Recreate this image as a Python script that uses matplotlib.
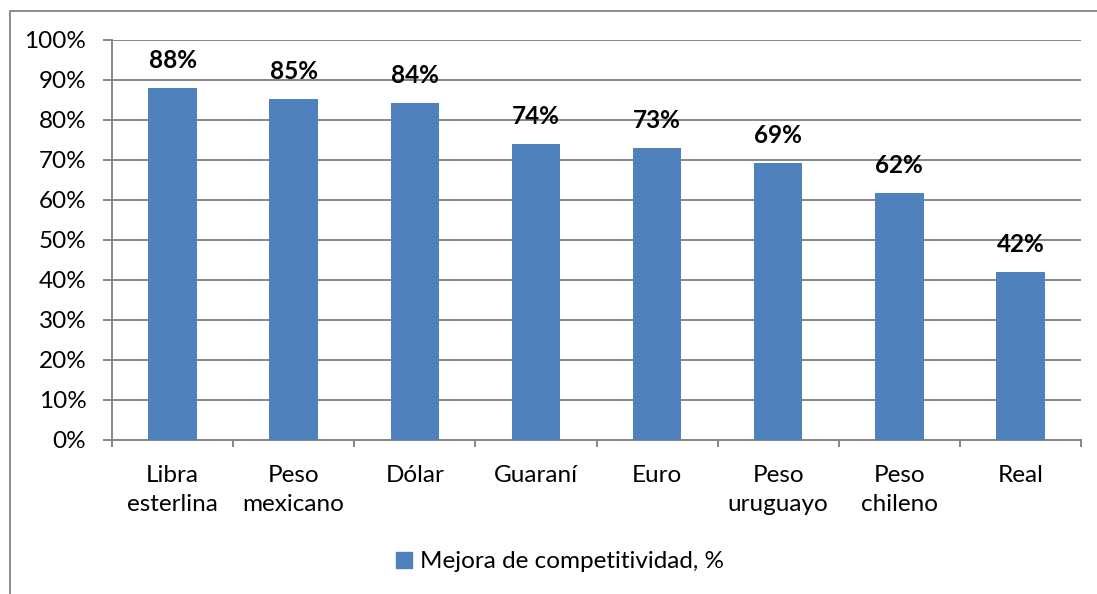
import matplotlib.pyplot as plt
from matplotlib.patches import Rectangle, Patch
import numpy as np

monedas = ["Libra\nesterlina", "Peso\nmexicano", "Dólar", "Guaraní", "Euro",
           "Peso\nuruguayo", "Peso\nchileno", "Real"]
mejora = [88.0, 85.2, 84.3, 73.9, 72.9, 69.2, 61.7, 42.0]
etiquetas = ["88%", "85%", "84%", "74%", "73%", "69%", "62%", "42%"]
yticks = [0, 10, 20, 30, 40, 50, 60, 70, 80, 90, 100]
serie = "Mejora de competitividad, %"

plt.rcParams['font.family'] = ['Lato', 'DejaVu Sans']
azul = "#4F81BD"
gris = "#868686"
fs = 17.5

fig = plt.figure(figsize=(10.97, 5.94), dpi=100)
ax = fig.add_axes([112/1097, 1 - 440/594, (1081-112)/1097, 400/594])

x = np.arange(len(monedas))
barras = ax.bar(x, mejora, width=0.4, color=azul, zorder=3)

for xi, v, t in zip(x, mejora, etiquetas):
    ax.annotate(t, (xi, v), xytext=(0, 14.4), textcoords="offset points",
                ha="center", va="baseline", fontsize=fs, fontweight="bold")

ax.set_xlim(-0.5, len(monedas) - 0.5)
ax.set_ylim(0, 100)
ax.set_yticks(yticks)
ax.set_yticklabels([f"{v}%" for v in yticks])
ax.yaxis.grid(True, color=gris, linewidth=1.4, zorder=0)

# ticks en los limites de categoria, etiquetas en el centro
ax.set_xticks(np.arange(-0.5, len(monedas), 1.0))
ax.set_xticklabels([])
ax.set_xticks(x, minor=True)
ax.set_xticklabels(monedas, minor=True, fontsize=fs, linespacing=1.45)
ax.tick_params(axis="x", which="major", length=5, color=gris, width=1.4)
ax.tick_params(axis="x", which="minor", length=0, pad=18)
ax.tick_params(axis="y", length=6.5, color=gris, width=1.4, pad=12, labelsize=fs)

for s in ["top", "right"]:
    ax.spines[s].set_visible(False)
for s in ["left", "bottom"]:
    ax.spines[s].set_color(gris)
    ax.spines[s].set_linewidth(1.4)

fig.legend(handles=[Patch(color=azul, label=serie)], loc="center",
           bbox_to_anchor=(560/1097, 1 - 562/594), frameon=False, fontsize=fs,
           handlelength=0.65, handleheight=0.65, handletextpad=0.3)

fig.patches.append(Rectangle((10/1097, -0.1), 1.2, 1.1 - 11/594, transform=fig.transFigure,
                             fill=False, edgecolor="#8c8c8c", linewidth=1.4))

fig.savefig("out.png", dpi=100)
